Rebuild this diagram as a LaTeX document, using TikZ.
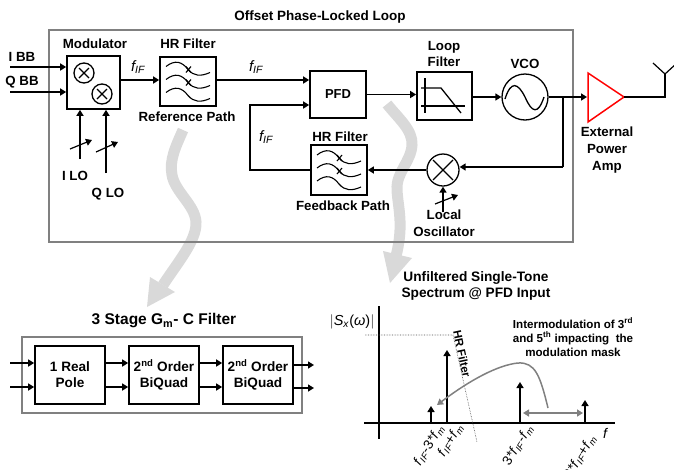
\documentclass[tikz,border=0pt]{standalone}
\usepackage{fontspec}
\setmainfont{Liberation Sans}
\usetikzlibrary{arrows.meta,calc}
\definecolor{boxgray}{RGB}{128,128,128}
\definecolor{widegray}{RGB}{217,217,217}
\tikzset{
  blk/.style={draw=black,line width=1.7pt,fill=white,inner sep=0pt,align=center,font=\bfseries\fontsize{13}{16}\selectfont},
  lbl/.style={inner sep=0pt,align=center,font=\bfseries\fontsize{13.3}{16.5}\selectfont},
  sig/.style={line width=1.6pt,-{Triangle[length=6pt,width=7pt]}},
  wire/.style={line width=1.6pt},
  outerbox/.style={draw=boxgray,line width=1.7pt},
  wave/.style={line width=1.1pt},
  fif/.style={inner sep=0pt,font=\itshape\fontsize{15}{17}\selectfont},
  rot/.style={inner sep=0pt,rotate=58,anchor=east,font=\fontsize{13.5}{15}\selectfont},
  widearrow/.style={draw=widegray,line width=11pt},
  widehead/.style={fill=widegray,draw=none},
}
\newcommand{\fIF}{\textit{f}\textsubscript{\textit{IF}}}
\newcommand{\fmm}{\textit{f}\textsubscript{\textit{m}}}
\newcommand{\hrwaves}[2]{%
  \begin{scope}[shift={(#1,#2)}]
    \foreach \dy in {0,13,26}{
      \draw[wave] (-22,{-15+\dy}) .. controls (-13,{-22+\dy}) and (-6,{-20+\dy}) .. (0,{-12+\dy})
                  .. controls (6,{-5+\dy}) and (13,{-5+\dy}) .. (22,{-9+\dy});
    }
    \draw[wave] (-2,-15) -- (3,-9);
    \draw[wave] (3,-15) -- (-2,-9);
    \draw[wave] (-2,-2) -- (3,4);
    \draw[wave] (3,-2) -- (-2,4);
  \end{scope}}
\begin{document}
\begin{tikzpicture}[x=1pt,y=-1pt]
\useasboundingbox (0,0) rectangle (674,469);
\clip (0,0) rectangle (674,469);
% wide gray arrows
\draw[widearrow] (183,130) .. controls (176,146) and (169,160) .. (172,175)
   .. controls (175,192) and (195,205) .. (196,222) .. controls (197,240) and (178,262) .. (163,285);
\fill[widehead] (147,307) -- (150,277) -- (175,292) -- cycle;
\draw[widearrow] (387,104) .. controls (398,118) and (413,130) .. (412,145)
   .. controls (411,162) and (396,172) .. (397,190) .. controls (398,208) and (404,225) .. (396,256);
\fill[widehead] (390,283) -- (383,251) -- (412,258) -- cycle;

\node[lbl,font=\bfseries\fontsize{13.5}{15}\selectfont] (title) at (320,17) {Offset Phase-Locked Loop};
\node[outerbox,minimum width=524pt,minimum height=212pt,inner sep=0pt] (mainbox) at (311,136) {};

% modulator
\node[blk,minimum width=53pt,minimum height=53pt] (mod) at (93.5,82.5) {};
\node[draw,circle,line width=1.3pt,minimum size=20pt,inner sep=0pt] (mx1) at (84,73) {};
\node[draw,circle,line width=1.3pt,minimum size=20pt,inner sep=0pt] (mx2) at (102,94) {};
\foreach \n in {mx1,mx2}{
  \draw[line width=1.1pt] ($(\n)+(-5,-5)$) -- ($(\n)+(5,5)$);
  \draw[line width=1.1pt] ($(\n)+(-5,5)$) -- ($(\n)+(5,-5)$);
}
\node[lbl] (modl) at (95,44) {Modulator};
\node[lbl] (ibb) at (22,57) {I BB};
\node[lbl] (qbb) at (22,82) {Q BB};
\coordinate (ibbs) at (10,67); \coordinate (qbbs) at (10,92);
\draw[sig] (ibbs) -- (ibbs -| mod.west);
\draw[sig] (qbbs) -- (qbbs -| mod.west);
\coordinate (ilos) at (80,159); \coordinate (qlos) at (106,173);
\draw[sig] (ilos) -- (ilos |- mod.south);
\draw[sig] (qlos) -- (qlos |- mod.south);
\coordinate (s1a) at (70,149); \coordinate (s1b) at (92,140);
\coordinate (s2a) at (96,152); \coordinate (s2b) at (118,142);
\draw[sig,line width=1.2pt] (s1a) -- (s1b);
\draw[sig,line width=1.2pt] (s2a) -- (s2b);
\node[lbl] (ilo) at (75,176) {I LO};
\node[lbl] (qlo) at (108,194) {Q LO};

% reference filter
\node[blk,minimum width=56pt,minimum height=49pt] (hr1) at (188,81.5) {};
\hrwaves{188}{81.5}
\node[lbl] (hr1t) at (188,44) {HR Filter};
\node[lbl] (refp) at (187,117) {Reference Path};
\draw[sig] (mod.east |- 0,80) -- (hr1.west |- 0,80);
\node[fif] (f1) at (138,67) {\fIF};
\node[fif] (f2) at (256,67) {\fIF};
\node[fif] (f3) at (266,137) {\fIF};

% PFD
\node[blk,minimum width=56pt,minimum height=47pt] (pfd) at (338,94.5) {PFD};
\draw[sig] (hr1.east |- 0,80) -- (pfd.west |- 0,80);
% feedback filter
\node[blk,minimum width=56pt,minimum height=50pt] (hr2) at (339,170) {};
\hrwaves{339}{170}
\node[lbl] (hr2t) at (340,137) {HR Filter};
\node[lbl] (fbp) at (343,206) {Feedback Path};
\coordinate (fbc) at (250,170); \coordinate (fbt) at (250,105);
\draw[wire] (hr2.west) -- (fbc) -- (fbt) -- (fbt -| 300,0);
\draw[sig] (fbt -| 300,0) -- (pfd.west |- fbt);

% loop filter
\node[blk,minimum width=55pt,minimum height=48pt] (lf) at (444.5,96) {};
\node[lbl] (lft) at (444,54) {Loop\\Filter};
\draw[sig] (pfd.east) -- (pfd.east -| lf.west);
\draw[line width=1.3pt] (425,78) -- (425,113);
\draw[line width=1.3pt] (421,106) -- (465,106);
\draw[line width=1.3pt] (421,88) -- (441,88) -- (461,113);

% VCO
\node[draw,circle,line width=1.3pt,fill=white,minimum size=46pt,inner sep=0pt] (vco) at (525,97) {};
\node[lbl] (vcol) at (525,64) {VCO};
\draw[line width=1.3pt] (505,99) .. controls (511,80) and (518,83) .. (525,97) .. controls (532,113) and (538,115) .. (544,97);
\draw[sig] (lf.east |- vco) -- (vco.west);

% amplifier
\coordinate (a1) at (588,73); \coordinate (a2) at (588,122); \coordinate (a3) at (624,97);
\draw[red,line width=1.5pt,line join=miter] (a1) -- (a3) -- (a2) -- cycle;
\coordinate (amin) at (587,97);
\draw[sig] (vco.east) -- (amin);
\coordinate (ant) at (665,97); \coordinate (antm) at (665,74);
\coordinate (antl) at (653,63); \coordinate (antr) at (677,63);
\draw[wire] (a3) -- (ant) -- (antm);
\draw[line width=1.2pt] (antl) -- (antm) -- (antr);
\node[lbl,font=\bfseries\fontsize{13.3}{17}\selectfont] (pa) at (607,150) {External\\Power\\Amp};

% LO mixer
\node[draw,circle,line width=1.3pt,minimum size=32pt,inner sep=0pt] (mx3) at (443,170) {};
\draw[line width=1.3pt] ($(mx3)+(-10,-10)$) -- ($(mx3)+(10,10)$);
\draw[line width=1.3pt] ($(mx3)+(-10,10)$) -- ($(mx3)+(10,-10)$);
\coordinate (fbt1) at (563,97); \coordinate (fbt2) at (563,167);
\draw[wire] (fbt1) -- (fbt2);
\draw[sig] (fbt2) -- (fbt2 -| mx3.east);
\draw[sig] (mx3.west) -- (hr2.east);
\coordinate (los) at (443,212);
\draw[sig] (los) -- (mx3.south);
\coordinate (s3a) at (435,204); \coordinate (s3b) at (458,195);
\draw[sig,line width=1.2pt] (s3a) -- (s3b);
\node[lbl,font=\bfseries\fontsize{13.3}{17}\selectfont] (lol) at (444,223.5) {Local\\Oscillator};

% Gm-C filter
\node[lbl,font=\bfseries\fontsize{15.5}{17}\selectfont] (gmt) at (164,321) {3 Stage G\textsubscript{m}- C Filter};
\node[outerbox,minimum width=280pt,minimum height=76pt,inner sep=0pt] (gmbox) at (162,375) {};
\node[blk,font=\bfseries\fontsize{13.6}{16}\selectfont,minimum width=70pt,minimum height=58pt] (b1) at (70,375) {1 Real\\Pole};
\node[blk,font=\bfseries\fontsize{13.6}{16}\selectfont,minimum width=70pt,minimum height=58pt] (b2) at (164,375) {2\textsuperscript{nd} Order\\BiQuad};
\node[blk,font=\bfseries\fontsize{13.6}{16}\selectfont,minimum width=70pt,minimum height=58pt] (b3) at (258,375) {2\textsuperscript{nd} Order\\BiQuad};
\coordinate (in1) at (10,363); \coordinate (in2) at (10,387);
\coordinate (o1) at (314,365); \coordinate (o2) at (314,388);
\draw[sig] (in1) -- (in1 -| b1.west);
\draw[sig] (in2) -- (in2 -| b1.west);
\draw[sig] (b1.east |- in1) -- (b2.west |- in1);
\draw[sig] (b1.east |- in2) -- (b2.west |- in2);
\draw[sig] (b2.east |- in1) -- (b3.west |- in1);
\draw[sig] (b2.east |- in2) -- (b3.west |- in2);
\draw[sig] (b3.east |- o1) -- (o1);
\draw[sig] (b3.east |- o2) -- (o2);

% spectrum
\node[lbl,font=\bfseries\fontsize{13.7}{16}\selectfont] (spt) at (476,286) {Unfiltered Single-Tone\\Spectrum @ PFD Input};
\coordinate (yt) at (379,306); \coordinate (yb) at (379,439);
\coordinate (xl) at (364,423); \coordinate (xr) at (615,423);
\draw[wire] (yt) -- (yb);
\draw[wire] (xl) -- (xr);
\node[inner sep=0pt,font=\fontsize{14.5}{16}\selectfont] (sx) at (352,322) {$|$\textit{S}\textsubscript{\textit{x}}(\textit{ω})$|$};
\coordinate (dh1) at (365,335); \coordinate (dh2) at (453,335); \coordinate (dd) at (477,442);
\draw[densely dotted,line width=.6pt,black!70] (dh1) -- (dh2) -- (dd);
\node[lbl,font=\bfseries\fontsize{11.5}{13}\selectfont,rotate=-78] (hrf) at (462,354) {HR Filter};
\coordinate (t1) at (431,423); \coordinate (t1e) at (431,406);
\coordinate (t2) at (447,423); \coordinate (t2e) at (447,350);
\coordinate (t3) at (520,423); \coordinate (t3e) at (520,382);
\coordinate (t4) at (585,423); \coordinate (t4e) at (585,400);
\draw[sig] (t1) -- (t1e);
\draw[sig] (t2) -- (t2e);
\draw[sig] (t3) -- (t3e);
\draw[sig] (t4) -- (t4e);
\coordinate (da) at (523,413); \coordinate (db) at (583,413);
\draw[boxgray,line width=1.5pt,{Triangle[length=6pt,width=7pt]}-{Triangle[length=6pt,width=7pt]}] (da) -- (db);
\coordinate (ca) at (548,408); \coordinate (cb) at (437,405);
\draw[boxgray,line width=1.5pt,-{Triangle[length=6pt,width=7pt]}] (ca) .. controls (540,375) and (535,362) .. (518,363)
  .. controls (498,365) and (470,380) .. (cb);
\node[lbl,font=\bfseries\fontsize{11.6}{14}\selectfont] (imd) at (573,337) {Intermodulation of 3\textsuperscript{rd}\\and 5\textsuperscript{th} impacting~ the\\modulation mask};
\node[rot] (l1) at (441,426) {\textit{f}\textsubscript{\textit{IF}}-3*\fmm};
\node[rot] (l2) at (460,425) {\textit{f}\textsubscript{\textit{IF}}+\textit{f}\textsubscript{\textit{m}}};
\node[rot] (l3) at (530,426) {3*\textit{f}\textsubscript{\textit{IF}}-\fmm};
\node[rot] (l4) at (593,436) {3*\textit{f}\textsubscript{\textit{IF}}+\fmm};
\node[inner sep=0pt,font=\itshape\fontsize{14}{16}\selectfont] (fx) at (605,433) {f};
\end{tikzpicture}
\end{document}
